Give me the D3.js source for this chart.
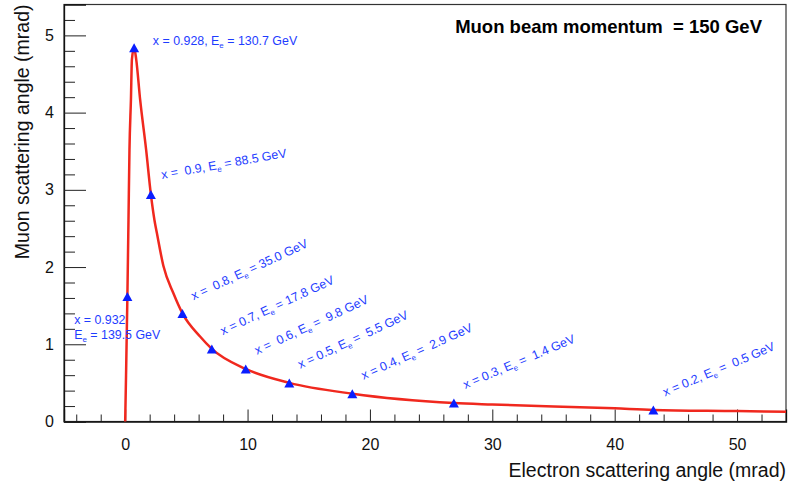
<!DOCTYPE html>
<html>
<head>
<meta charset="utf-8">
<script src="https://cdn.jsdelivr.net/npm/d3@7"></script>
<style>
  html, body { margin: 0; padding: 0; background: #fff; }
  text { font-family: "Liberation Sans", Arial, Helvetica, sans-serif; white-space: pre; }
</style>
</head>
<body>
<svg id="chart" width="792" height="488"></svg>
<script>
// ---- data ----
const curveThetaE  = [0, 0.07, 0.18, 0.27, 0.35, 0.47, 0.55, 0.73, 0.90, 1.22, 1.71, 2.10, 2.39, 2.59, 3.13, 3.94, 4.68, 6.12, 7.08, 9.85, 13.41, 18.56, 26.86, 30, 40, 43.16, 50, 54];
const curveThetaMu = [0, 0.60, 1.62, 2.61, 3.52, 4.17, 4.69, 4.84, 4.69, 4.17, 3.52, 2.94, 2.61, 2.44, 2.01, 1.66, 1.40, 1.10, 0.94, 0.68, 0.50, 0.36, 0.24, 0.22, 0.17, 0.15, 0.135, 0.125];

const markerThetaE  = [0.18, 0.73, 2.10, 4.68, 7.08, 9.85, 13.41, 18.56, 26.86, 43.16];
const markerThetaMu = [1.62, 4.84, 2.94, 1.40, 0.94, 0.68, 0.50, 0.36, 0.24, 0.15];

// annotation texts (x value, electron energy)
const labelPre  = ["x = 0.932", "x = 0.928, E", "x =  0.9, E", "x =  0.8, E", "x = 0.7, E", "x =  0.6, E", "x = 0.5, E", "x = 0.4, E", "x = 0.3, E", "x = 0.2, E"];
const labelPost = [" = 139.5 GeV", " = 130.7 GeV", " = 88.5 GeV", " = 35.0 GeV", " = 17.8 GeV", " =  9.8 GeV", " =  5.5 GeV", " =  2.9 GeV", " =  1.4 GeV", " =  0.5 GeV"];
// annotation anchors in data coordinates and text angle
const labelThetaE  = [-4.17, 2.26, 3.0, 5.58, 7.98, 10.78, 14.3, 19.47, 27.78, 44.12];
const labelThetaMu = [1.265, 4.88, 3.14, 1.57, 1.117, 0.864, 0.683, 0.54, 0.42, 0.324];
const labelAngle   = [0, 0, -10, -25, -25, -25, -25, -24, -23, -23];

const xMajorTicks = [0, 10, 20, 30, 40, 50];
const yMajorTicks = [0, 1, 2, 3, 4, 5];
const xDomain = [-5, 54];
const yDomain = [0, 5.4];

const title = "Muon beam momentum  = 150 GeV";
const xTitle = "Electron scattering angle (mrad)";
const yTitle = "Muon scattering angle (mrad)";

// ---- layout ----
const svg = d3.select("#chart");
const L = 64, R = 786, T = 4.5, B = 421.5;
const x = d3.scaleLinear().domain(xDomain).range([L, R]);
const y = d3.scaleLinear().domain(yDomain).range([B, T]);

const lineColor = "#f0281e";
const blue = "#0a1eff";
const textBlue = "#1e3cff";

// frame
svg.append("rect").attr("x", L).attr("y", T).attr("width", R - L).attr("height", B - T)
  .attr("fill", "none").attr("stroke", "#333").attr("stroke-width", 1.2);

// x axis: minor + major ticks drawn inward
const xMinor = d3.range(-4, 55, 2).filter(v => !xMajorTicks.includes(v));
svg.append("g").attr("transform", `translate(0,${B})`)
  .call(d3.axisBottom(x).tickValues(xMinor).tickSize(-7).tickFormat(""))
  .call(g => g.select(".domain").remove());
const gx = svg.append("g").attr("transform", `translate(0,${B})`)
  .call(d3.axisBottom(x).tickValues(xMajorTicks).tickSize(-12).tickPadding(17).tickFormat(d3.format("d")));
gx.select(".domain").attr("stroke", "#111").attr("stroke-width", 1.3);
gx.selectAll("text").attr("font-size", 16).attr("fill", "#111").attr("dy", "0.71em");

// y axis
const yMinor = d3.range(0, 5.3, 0.2).map(v => +v.toFixed(1)).filter(v => !yMajorTicks.includes(v));
svg.append("g").attr("transform", `translate(${L},0)`)
  .call(d3.axisLeft(y).tickValues(yMinor).tickSize(-11).tickFormat(""))
  .call(g => g.select(".domain").remove());
const gy = svg.append("g").attr("transform", `translate(${L},0)`)
  .call(d3.axisLeft(y).tickValues(yMajorTicks).tickSize(-22).tickPadding(10).tickFormat(d3.format("d")));
gy.select(".domain").attr("stroke", "#111").attr("stroke-width", 1.3);
gy.selectAll("text").attr("font-size", 16).attr("fill", "#111");
svg.selectAll(".tick line").attr("stroke", "#222");

// axis titles
svg.append("text").attr("x", R).attr("y", 476.5).attr("text-anchor", "end")
  .attr("font-size", 19.5).attr("fill", "#111").text(xTitle);
svg.append("text").attr("transform", `translate(29,${T}) rotate(-90)`).attr("text-anchor", "end")
  .attr("font-size", 19.5).attr("fill", "#111").text(yTitle);

// top-right note
svg.append("text").attr("x", 762).attr("y", 33).attr("text-anchor", "end")
  .attr("font-size", 18.5).attr("font-weight", "bold").attr("fill", "#000").text(title);

// curve
const curve = d3.line().x(d => x(d[0])).y(d => y(d[1])).curve(d3.curveMonotoneX);
svg.append("path").datum(d3.zip(curveThetaE, curveThetaMu))
  .attr("d", curve).attr("fill", "none").attr("stroke", lineColor).attr("stroke-width", 2.5);

// markers
const tri = "M0,-4.5L5,4.5L-5,4.5Z";
svg.append("g").selectAll("path").data(d3.zip(markerThetaE, markerThetaMu)).join("path")
  .attr("d", tri).attr("transform", d => `translate(${x(d[0])},${y(d[1])})`)
  .attr("fill", blue);

// annotations
labelPre.forEach((pre, i) => {
  const t = svg.append("text")
    .attr("transform", `translate(${x(labelThetaE[i])},${y(labelThetaMu[i])}) rotate(${labelAngle[i]})`)
    .attr("font-size", 12.4).attr("fill", textBlue);
  if (i === 0) {
    t.append("tspan").attr("x", 0).attr("y", 0).text(pre);
    t.append("tspan").attr("x", 0).attr("y", 15.3).text("E");
    t.append("tspan").attr("font-size", 8).attr("dy", 3).text("e");
    t.append("tspan").attr("dy", -3).text(labelPost[i]);
  } else {
    t.append("tspan").text(pre);
    t.append("tspan").attr("font-size", 8).attr("dy", 3).text("e");
    t.append("tspan").attr("dy", -3).text(labelPost[i]);
  }
});
</script>
</body>
</html>
